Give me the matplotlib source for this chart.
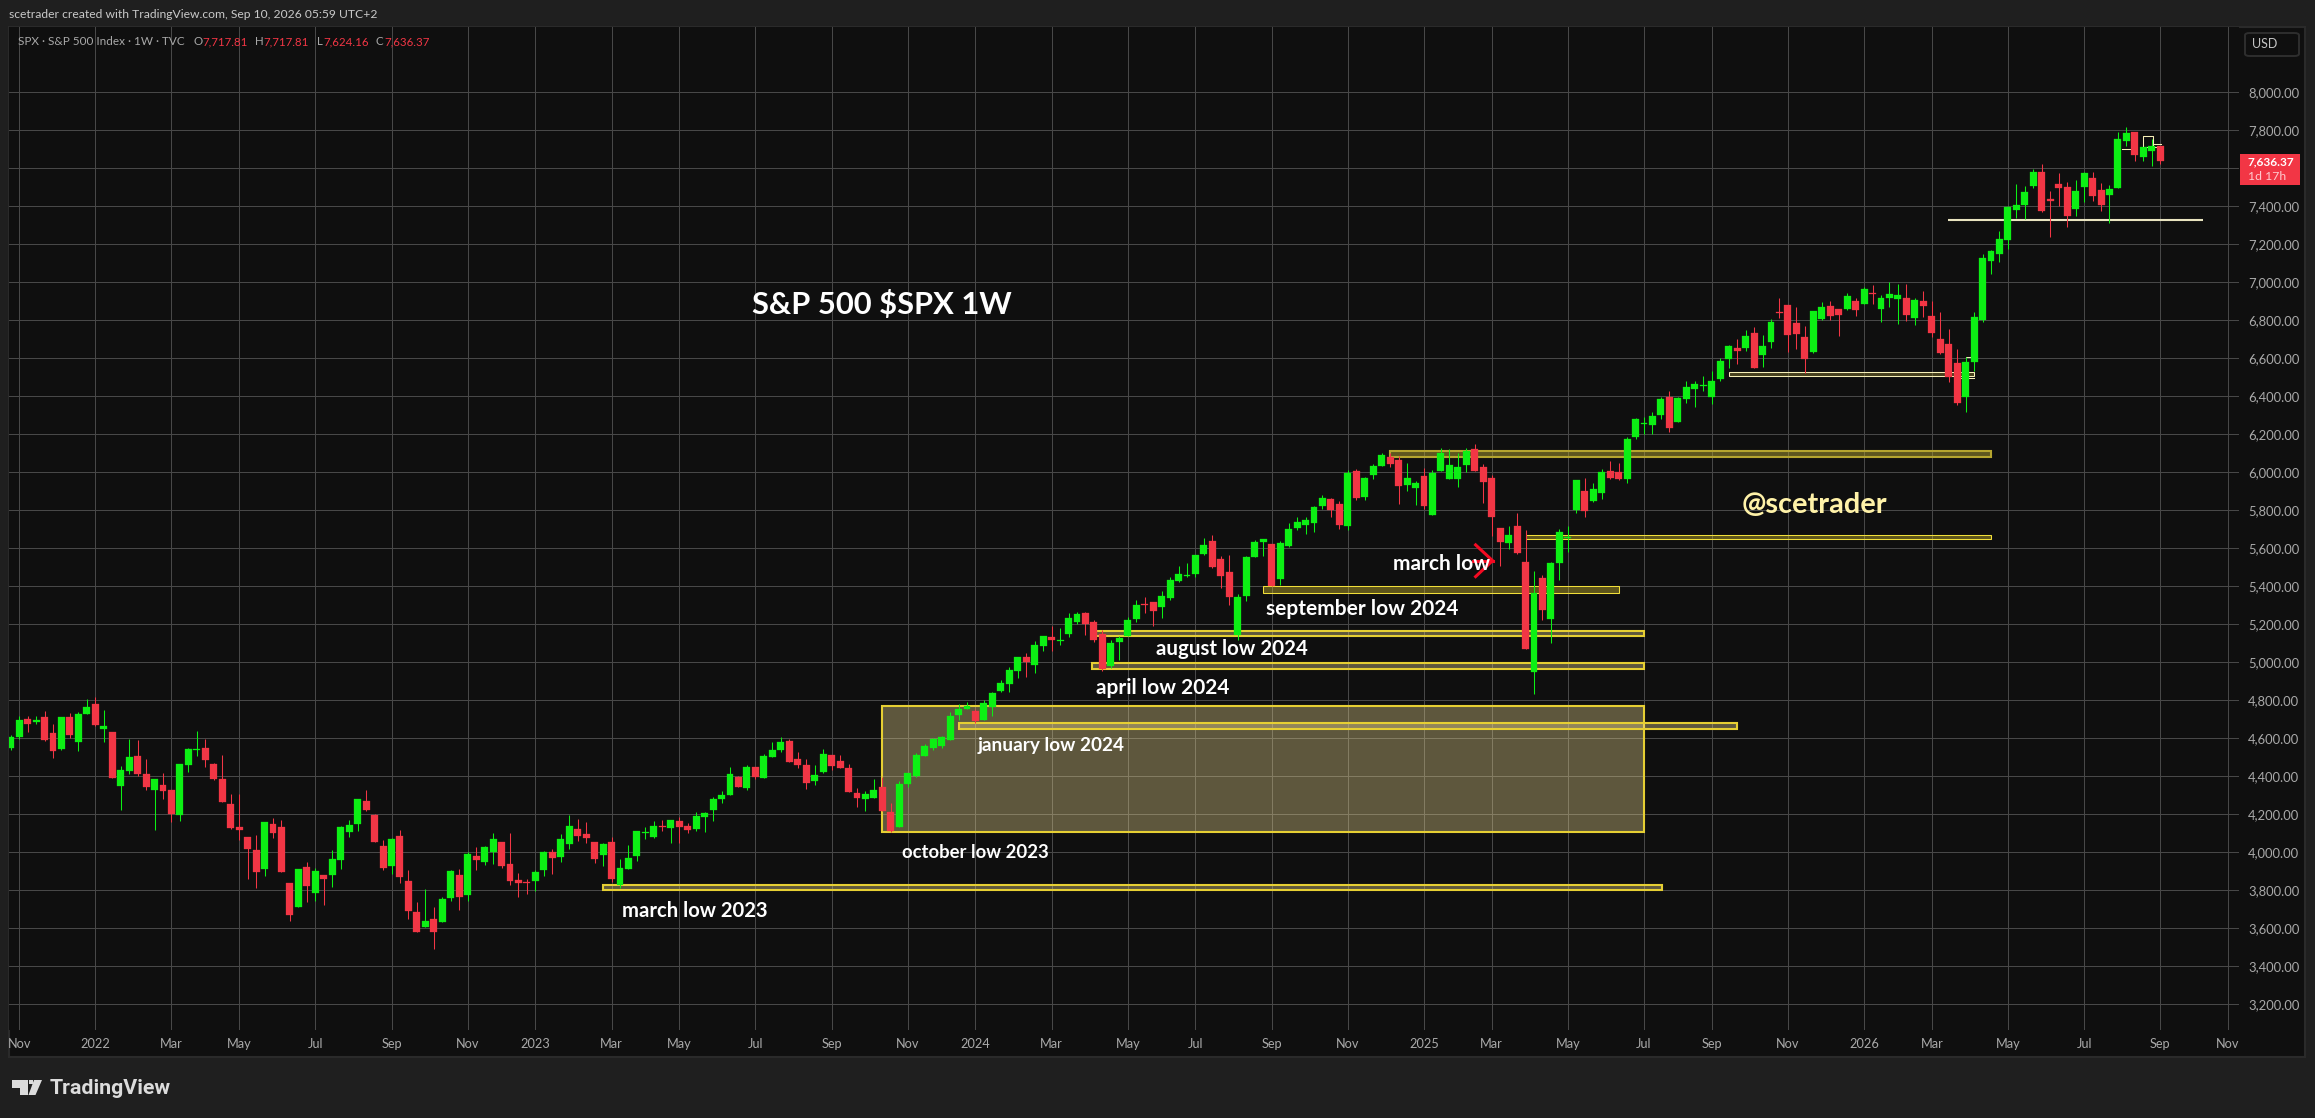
import matplotlib
matplotlib.use("Agg")
import matplotlib.pyplot as plt
from matplotlib.patches import Rectangle, FancyBboxPatch, Polygon

W, H = 2315, 1118

# ---------- data ----------
first_bar = -10
opens = [4547,4607,4702,4686,4712,4628,4544,4712,4581,4728,
 4781,4649,4633,4349,4428,4507,4412,4328,4355,4328,
 4197,4460,4539,4549,4465,4386,4255,4134,4081,4012,
 3913,4149,4134,3839,3713,3923,3786,3881,3881,3960,
 4107,4149,4270,4197,4034,3928,4086,3849,3686,3607,
 3649,3634,3760,3881,3776,3981,3949,4002,4055,3939,
 3855,3844,3849,3907,4002,3976,4044,4123,4097,4055,
 3986,4055,3828,3913,3981,4102,4081,4139,4128,4165,
 4139,4123,4186,4223,4281,4302,4397,4339,4449,4391,
 4502,4539,4586,4491,4460,4376,4423,4512,4481,4444,
 4312,4281,4286,4344,4212,4134,4360,4402,4507,4549,
 4560,4591,4723,4754,4744,4697,4765,4849,4886,4954,
 5028,4986,5086,5133,5112,5149,5212,5260,5212,5149,
 4981,5107,5139,5228,5307,5318,5291,5339,5428,5454,
 5465,5570,5639,5544,5475,5144,5349,5554,5633,5623,
 5439,5612,5707,5723,5733,5823,5860,5833,5718,6007,
 5870,5986,6033,6081,6065,5933,5917,5981,5775,6007,
 5965,5965,6038,6123,6028,5970,5707,5628,5718,5528,
 4949,5444,5228,5523,5656,5802,5902,5849,5891,6007,
 6002,5965,6186,6254,6249,6302,6397,6265,6386,6439,
 6454,6397,6491,6596,6654,6654,6733,6617,6686,6844,
 6881,6786,6712,6633,6807,6875,6860,6860,6902,6886,
 6944,6860,6917,6912,6917,6812,6902,6823,6702,6675,
 6575,6397,6581,6802,7112,7149,7223,7381,7407,7507,
 7581,7439,7518,7502,7386,7502,7549,7486,7460,7497,
 7744,7791,7660,7691,7717.81]
closes = [4607,4697,4676,4697,4591,4533,4712,4618,4728,4765,
 4670,4665,4391,4434,4502,4412,4344,4386,4323,4202,
 4465,4544,4544,4486,4386,4265,4128,4118,4018,3897,
 4160,4102,3897,3671,3913,3823,3902,3860,3965,4134,
 4144,4281,4223,4055,3918,4070,3870,3692,3581,3639,
 3581,3755,3902,3765,3991,3960,4028,4070,3928,3849,
 3839,3839,3897,4002,3970,4070,4139,4086,4076,3965,
 4044,3860,3918,3970,4112,4107,4139,4134,4170,4134,
 4118,4191,4207,4281,4302,4412,4344,4449,4397,4507,
 4539,4581,4475,4460,4365,4407,4518,4455,4444,4318,
 4286,4307,4328,4218,4112,4360,4418,4512,4560,4597,
 4607,4718,4754,4770,4691,4786,4839,4891,4960,5028,
 5002,5091,5139,5118,5116,5233,5254,5202,5118,4965,
 5102,5128,5223,5302,5302,5270,5349,5433,5465,5460,
 5565,5617,5502,5454,5344,5344,5554,5633,5649,5402,
 5628,5702,5739,5749,5817,5865,5802,5723,5996,5865,
 5970,6033,6091,6044,5928,5970,5944,5823,5996,6102,
 6038,6028,6112,6007,5949,5765,5633,5670,5575,5070,
 5365,5275,5523,5686,5660,5960,5796,5912,6002,5970,
 5965,6175,6281,6260,6297,6386,6233,6391,6449,6465,
 6460,6481,6586,6665,6639,6717,6549,6665,6791,6839,
 6723,6728,6596,6849,6870,6823,6828,6928,6854,6965,
 6939,6917,6939,6933,6828,6907,6875,6733,6628,6502,
 6365,6581,6817,7128,7165,7228,7397,7407,7475,7581,
 7376,7428,7497,7349,7481,7575,7454,7407,7491,7754,
 7786,7670,7712,7718,7636.37]
highs = [4618,4718,4718,4718,4744,4676,4712,4733,4739,4807,
 4818,4749,4633,4455,4597,4591,4491,4386,4418,4328,
 4465,4549,4639,4597,4470,4512,4307,4307,4081,4091,
 4160,4181,4170,3839,3913,3949,3918,3881,4012,4139,
 4170,4281,4328,4202,4065,4076,4118,3907,3739,3807,
 3713,3765,3907,3913,4002,4028,4034,4102,4055,4102,
 3891,3860,3907,4007,4018,4097,4197,4176,4160,4055,
 4049,4081,3965,4039,4112,4134,4165,4170,4170,4186,
 4155,4213,4213,4291,4323,4449,4402,4460,4449,4518,
 4581,4607,4597,4528,4491,4460,4544,4512,4512,4465,
 4339,4323,4386,4397,4260,4376,4418,4523,4570,4602,
 4612,4739,4781,4791,4754,4802,4844,4907,4976,5028,
 5049,5112,5139,5191,5181,5260,5265,5265,5223,5170,
 5118,5139,5239,5328,5344,5318,5375,5449,5507,5523,
 5565,5654,5670,5560,5565,5360,5560,5644,5649,5623,
 5639,5733,5765,5765,5823,5881,5865,5849,6012,6017,
 5975,6044,6102,6102,6086,6049,5954,6023,6012,6128,
 6123,6102,6128,6149,6044,5986,5707,5718,5786,5696,
 5481,5460,5528,5702,5718,5960,5970,5944,6017,6060,
 6049,6186,6286,6291,6318,6397,6428,6397,6481,6481,
 6507,6533,6602,6670,6702,6749,6765,6723,6807,6917,
 6881,6870,6770,6849,6896,6902,6860,6944,6917,6975,
 6986,6933,7002,6991,6991,6917,6954,6902,6844,6754,
 6649,6607,6844,7149,7170,7270,7402,7518,7507,7597,
 7623,7481,7575,7528,7539,7581,7581,7523,7512,7791,
 7818,7791,7712,7754,7717.81]
lows = [4539,4598,4633,4676,4586,4497,4539,4602,4533,4728,
 4665,4581,4391,4223,4412,4402,4328,4118,4281,4160,
 4165,4423,4507,4449,4381,4265,4123,4065,3860,3813,
 3876,4076,3897,3639,3713,3739,3744,3723,3818,3913,
 4081,4112,4218,4055,3907,3886,3839,3649,3581,3607,
 3492,3634,3744,3697,3744,3907,3934,3939,3918,3828,
 3765,3781,3797,3876,3886,3949,4018,4060,4049,3944,
 3928,3844,3813,3913,3955,4070,4076,4112,4049,4049,
 4102,4112,4107,4165,4260,4302,4344,4328,4386,4391,
 4502,4528,4475,4444,4334,4355,4418,4434,4444,4318,
 4239,4218,4286,4218,4107,4134,4344,4397,4507,4539,
 4549,4591,4697,4754,4681,4697,4718,4844,4844,4918,
 4923,4944,5060,5060,5091,5133,5202,5144,5107,4954,
 4970,5012,5139,5212,5260,5191,5233,5328,5423,5449,
 5449,5565,5496,5391,5302,5118,5323,5554,5560,5402,
 5407,5607,5696,5675,5686,5807,5765,5702,5696,5854,
 5854,5965,6033,6028,5833,5902,5828,5807,5775,6007,
 5965,5923,6002,6007,5839,5665,5507,5596,5570,5070,
 4833,5223,5102,5433,5581,5786,5765,5844,5860,5965,
 5960,5944,6176,6202,6202,6281,6212,6265,6365,6344,
 6428,6360,6481,6549,6570,6639,6549,6554,6654,6812,
 6633,6649,6523,6628,6802,6802,6718,6854,6823,6886,
 6886,6791,6870,6781,6796,6775,6817,6712,6623,6475,
 6354,6318,6533,6791,7044,7107,7176,7339,7333,7497,
 7370,7239,7402,7291,7349,7423,7428,7376,7312,7497,
 7718,7639,7639,7612,7624.16]

tick_bars = [-9,0,9,17,26,35,44,52,61,69,78,87,96,104,113,122,130,139,148,157,165,174,183,191,200,209,217,226,235,244,252]
tick_names = ["Nov","2022","Mar","May","Jul","Sep","Nov","2023","Mar","May","Jul","Sep","Nov","2024","Mar","May","Jul","Sep","Nov","2025","Mar","May","Jul","Sep","Nov","2026","Mar","May","Jul","Sep","Nov"]
price_ticks = list(range(3200, 8001, 200))

# drawn zones: start bar, end bar, lower price, upper price
zone_main = (93, 183, 4107, 4770)
zones_thick = [(60, 185.1, 3800, 3830), (102, 194, 4648, 4683), (117.8, 183, 4963, 4995), (118.3, 183, 5139, 5167)]
zones_thin = [(138, 180, 5367, 5404), (169, 224, 5651, 5668)]
zone_top = (153, 224, 6082, 6114)
zone_pale = (193, 222, 6509, 6526)
pale_line = (218.9, 249, 7328)
pale_bits = [((239.5, 240.6), (7700, 7700)), ((242, 242, 243.1, 243.1), (7714, 7768, 7768, 7714)),
             ((243, 244.1), (7730, 7730)), ((242, 243.5), (7714, 7714)), ((221, 221.6), (6605, 6605)), ((220.5, 222), (6498, 6498))]
arrow_head = ([163.1, 165.1, 163.1], [5618, 5535, 5451])
arrow_tail = ([162.8, 165.1], [5535, 5535])

BG, OUT, GRID = "#0f0f0f", "#1f1f1f", "#484848"
UP, DOWN = "#0cf014", "#f23645"
GOLD = "#e6cf33"
SANS = "Lato"

# ---------- pixel layout ----------
fig = plt.figure(figsize=(W/100, H/100), dpi=100, facecolor=OUT)
def fx(x): return x/W
def fy(y): return 1-y/H
def txt(x, y, s, color, size, weight="normal", ha="left", fam=SANS):
    return fig.text(fx(x), fy(y), s, color=color, fontsize=size, fontweight=weight, ha=ha, va="center", family=fam, zorder=20)

fig.patches.append(Rectangle((fx(9), fy(1057)), fx(2305-9), (1057-27)/H, transform=fig.transFigure,
                             facecolor=BG, edgecolor="#2a2a2a", linewidth=1.5, zorder=-5))

L, R, T, B = 9, 2239, 27, 1030
ax = fig.add_axes([fx(L), fy(B), fx(R-L), (B-T)/H])
ax.set_facecolor(BG)
ax.set_xlim((L-95.3)/8.463, (R-95.3)/8.463)
ax.set_ylim(8000-(B-92.3)/0.19, 8000+(92.3-T)/0.19)
for s in ax.spines.values():
    s.set_visible(False)

ax.set_xticks(tick_bars, tick_names)
ax.yaxis.tick_right()
ax.set_yticks(price_ticks, [f"{p:,.2f}" for p in price_ticks])
ax.tick_params(axis="x", length=0, pad=6, labelcolor="#a9a9a9", labelsize=9.2)
ax.tick_params(axis="y", length=0, pad=6.5, labelcolor="#a9a9a9", labelsize=9.4)
for lab in ax.get_xticklabels()+ax.get_yticklabels():
    lab.set_family(SANS)
ax.grid(True, color=GRID, linewidth=0.72, zorder=0)
ax.set_axisbelow(True)

# ---------- zones ----------
def zone(z, edge, fill, lw):
    x0, x1, p0, p1 = z
    ax.add_patch(Rectangle((x0, p0), x1-x0, p1-p0, facecolor=fill, edgecolor=edge, linewidth=lw, zorder=2))

zone(zone_main, GOLD, (0.93, 0.85, 0.57, 0.36), 1.5)
for z in zones_thick:
    zone(z, GOLD, (0.93, 0.85, 0.57, 0.36), 1.5)
for z in zones_thin:
    zone(z, "#f2e03a", (0.95, 0.85, 0.2, 0.35), 0.75)
zone(zone_top, "#b5a52f", (0.75, 0.68, 0.2, 0.45), 1.5)
zone(zone_pale, "#f7f0b8", (0.6, 0.55, 0.2, 0.4), 0.75)
ax.plot(pale_line[:2], [pale_line[2]]*2, color="#e9e4c0", lw=1.5, zorder=2.5, solid_capstyle="butt")
for xs, ys in pale_bits:
    ax.plot(xs, ys, color="#f7f0b8", lw=0.75, zorder=2.5)

# ---------- candles ----------
bars = list(range(first_bar, first_bar+len(opens)))
cols = [UP if c >= o else DOWN for o, c in zip(opens, closes)]
ax.vlines(bars, lows, highs, colors=cols, linewidth=0.75, zorder=3)
ax.bar(bars, [abs(c-o) for o, c in zip(opens, closes)], bottom=[min(o, c) for o, c in zip(opens, closes)],
       width=0.82, color=cols, edgecolor=cols, linewidth=0.2, zorder=4)

# ---------- text ----------
ann = "white"
txt(752, 305, "S&P 500 $SPX 1W", ann, 22.2, "bold")
txt(622, 911, "march low 2023", ann, 14.6, "bold")
txt(902, 852, "october low 2023", ann, 13.3, "bold")
txt(978, 746, "january low 2024", ann, 13.7, "bold")
txt(1096, 688, "april low 2024", ann, 15, "bold")
txt(1156, 649, "august low 2024", ann, 14.8, "bold")
txt(1266, 609, "september low 2024", ann, 15, "bold")
txt(1393, 564, "march low", ann, 15, "bold")
txt(1742, 505, "@scetrader", "#fff2a8", 20.8, "bold")

ax.plot(*arrow_head, color="#f50a22", lw=2.2, zorder=10, solid_joinstyle="miter")
ax.plot(*arrow_tail, color="#f50a22", lw=2.2, zorder=10)

txt(9, 15, "scetrader created with TradingView.com, Sep 10, 2026 05:59 UTC+2", "#c9c9c9", 8.7)
txt(18, 41.7, "SPX · S&P 500 Index · 1W · TVC", "#a8a8a8", 8.5)
for xl, xv, l, v in [(193, 202, "O", "7,717.81"), (255, 263, "H", "7,717.81"), (317, 323, "L", "7,624.16"), (376, 384, "C", "7,636.37")]:
    txt(xl, 41.7, l, "#a8a8a8", 8.3)
    txt(xv, 41.7, v, DOWN, 8.3)

# ---------- price tag and currency ----------
fig.patches.append(Rectangle((fx(2240), fy(185)), 60/W, 31/H, transform=fig.transFigure, facecolor=DOWN, edgecolor="none", zorder=15))
txt(2248, 161.5, "7,636.37", "white", 8.6, "bold")
txt(2248, 176.5, "1d 17h", "#ffc9cd", 8.8)
fig.patches.append(FancyBboxPatch((fx(2245), fy(56)), 54/W, 23/H, boxstyle="round,pad=0,rounding_size=0.002",
                                  transform=fig.transFigure, facecolor=BG, edgecolor="#2e2e2e", linewidth=1.4, zorder=15,
                                  mutation_aspect=1))
txt(2252, 44.5, "USD", "#c4c4c4", 9)

# ---------- logo ----------
logo = "#dcdcdc"
def pts(seq): return [(fx(x), fy(y)) for x, y in seq]
fig.patches.append(Polygon(pts([(12, 1080), (28, 1080), (28, 1095), (20, 1095), (20, 1088), (12, 1088)]), transform=fig.transFigure, facecolor=logo, edgecolor="none"))
fig.patches.append(Polygon(pts([(34, 1080), (42, 1080), (35.5, 1095), (28.5, 1095)]), transform=fig.transFigure, facecolor=logo, edgecolor="none"))
fig.patches.append(Polygon(pts([(29, 1080), (33, 1080), (33, 1084), (29, 1084)]), transform=fig.transFigure, facecolor=logo, edgecolor="none"))
txt(50, 1088, "TradingView", logo, 15.4, "bold", fam="Roboto")

fig.savefig("out.png", dpi=100, facecolor=OUT)
